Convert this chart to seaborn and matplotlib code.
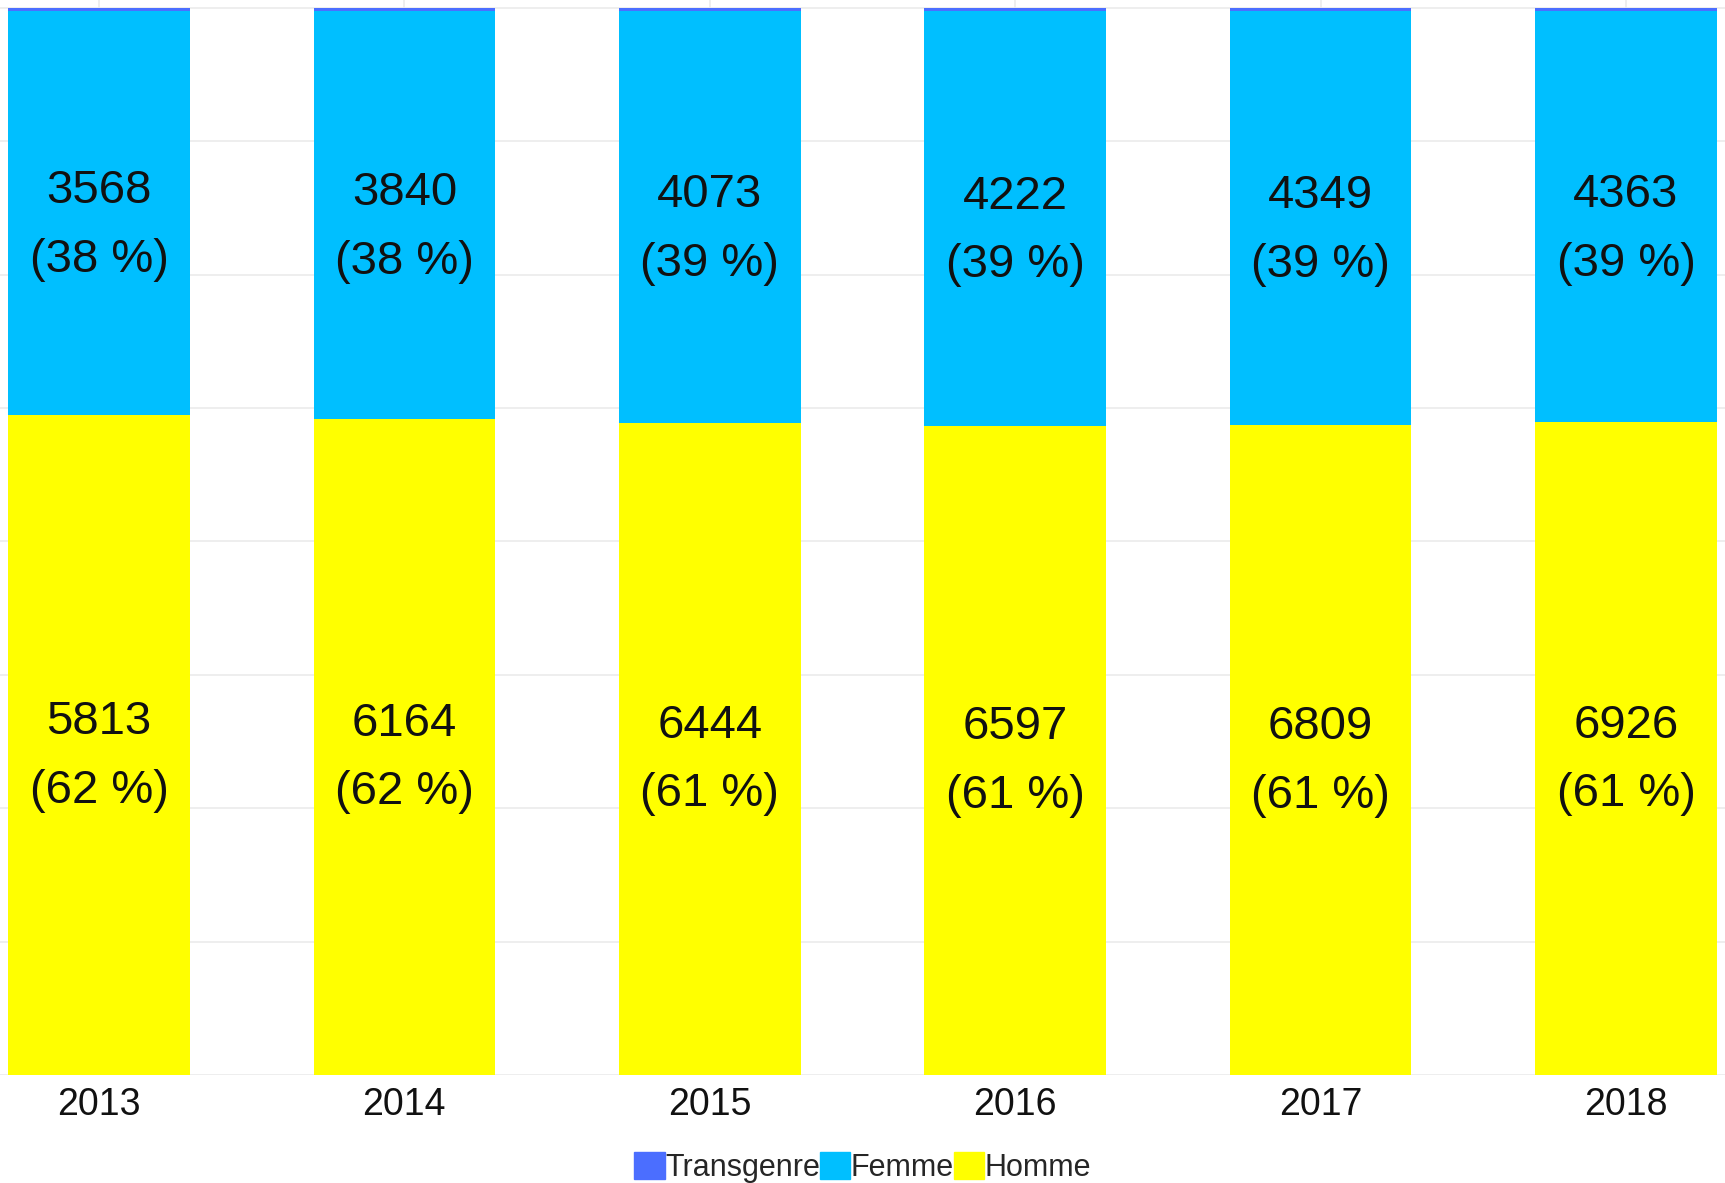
import matplotlib
matplotlib.use("Agg")
import matplotlib.pyplot as plt
import seaborn as sns
import numpy as np
import pandas as pd
from matplotlib.patches import Patch

years = ["2013", "2014", "2015", "2016", "2017", "2018"]
homme = [5813, 6164, 6444, 6597, 6809, 6926]
femme = [3568, 3840, 4073, 4222, 4349, 4363]
transgenre = [25, 28, 30, 30, 30, 40]
homme_pct_labels = [62, 62, 61, 61, 61, 61]
femme_pct_labels = [38, 38, 39, 39, 39, 39]

c_trans = "#4B6EFF"
c_femme = "#00BFFF"
c_homme = "#FFFF00"

sns.set_theme(style="white")
plt.rcParams["font.family"] = ["Liberation Sans", "DejaVu Sans"]

h = np.array(homme, float)
f = np.array(femme, float)
t = np.array(transgenre, float)
tot = h + f + t
df = pd.DataFrame({
    "year": years,
    "homme": h / tot * 100,
    "hf": (h + f) / tot * 100,
    "all": np.full(len(years), 100.0),
})

fig = plt.figure(figsize=(17.25, 11.83), dpi=100)
ax = fig.add_axes([0.0, 0.0913, 1.0, 0.9087])

w = 0.594
sns.barplot(data=df, x="year", y="all", color=c_trans, saturation=1, width=w, ax=ax, zorder=2)
sns.barplot(data=df, x="year", y="hf", color=c_femme, saturation=1, width=w, ax=ax, zorder=2)
sns.barplot(data=df, x="year", y="homme", color=c_homme, saturation=1, width=w, ax=ax, zorder=2)
for p in ax.patches:
    p.set_linewidth(0)

ax.set_xlim(-0.324, 5.324)
ax.set_ylim(0, 100.72)
ax.set_yticks(np.arange(0, 100.1, 12.5))
ax.set_xticks(range(len(years)))
ax.grid(True, color="#EBEBEB", linewidth=1.2, zorder=0)
ax.set_axisbelow(True)
for s in ax.spines.values():
    s.set_visible(False)
ax.set_yticklabels([])
ax.tick_params(axis="y", length=0)
ax.tick_params(axis="x", length=0, labelsize=27, pad=9, labelcolor="#111111")
ax.set_xlabel("")
ax.set_ylabel("")

for i in range(len(years)):
    yh = df["homme"][i] / 2
    yf = (df["homme"][i] + df["hf"][i]) / 2
    ax.annotate(f"{homme[i]}\n({homme_pct_labels[i]} %)", (i, yh), xytext=(0, -8),
                textcoords="offset points", ha="center", va="center",
                fontsize=34, linespacing=1.72, color="#111111", zorder=3)
    ax.annotate(f"{femme[i]}\n({femme_pct_labels[i]} %)", (i, yf), xytext=(0, -9),
                textcoords="offset points", ha="center", va="center",
                fontsize=34, linespacing=1.72, color="#111111", zorder=3)

handles = [Patch(color=c_trans, label="Transgenre"),
           Patch(color=c_femme, label="Femme"),
           Patch(color=c_homme, label="Homme")]
fig.legend(handles=handles, loc="center", bbox_to_anchor=(0.5, 0.013), ncol=3,
           frameon=False, fontsize=22, handlelength=1.0, handleheight=1.0,
           handletextpad=0.0, columnspacing=0.0, borderaxespad=0, borderpad=0)

fig.savefig("out.png", dpi=100)
